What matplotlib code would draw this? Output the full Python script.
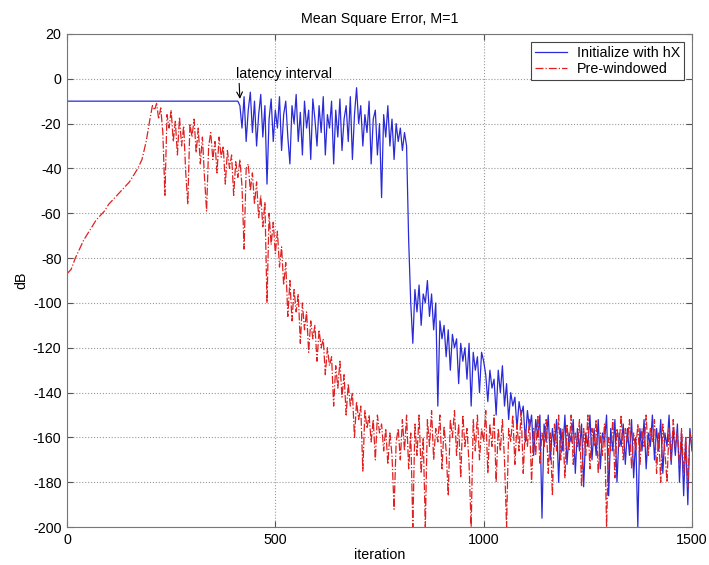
import numpy as np
import matplotlib
matplotlib.use('Agg')
import matplotlib.pyplot as plt

plt.rcParams['font.family'] = ['Liberation Sans', 'DejaVu Sans']
plt.rcParams['axes.unicode_minus'] = False

# pre-windowed, smooth start (every 10 iterations)
red_ramp_x = [0, 10, 20, 30, 40, 50, 60, 70, 80, 90, 100, 110, 120, 130, 140, 150, 160, 170, 180, 190, 200]
red_ramp_y = [-87, -85, -80, -76, -72, -69, -66, -63, -61, -59, -56, -54, -52, -50, -48, -46, -43, -40, -36, -28, -17]

# pre-windowed, noisy part, every 5 iterations from 205 to 1500
red_noisy = [
    -12, -14, -11, -18, -13, -24, -52, -16, -22, -14, -28, -19, -34, -17, -30, -21, -42, -56, -20, -26,
    -18, -33, -22, -38, -26, -44, -59, -30, -24, -36, -28, -42, -26, -35, -30, -47, -32, -40, -34, -52,
    -37, -44, -36, -48, -76, -40,
    -38, -50, -42, -56, -46, -62, -52, -66, -55, -100, -60, -74, -64, -78, -68, -84, -75, -92, -82, -106,
    -90, -108, -94, -104, -96, -118, -100, -112, -104, -122, -108, -116, -110, -126, -112, -120, -116, -132, -120, -128,
    -124, -146, -128, -138, -126, -142, -132, -150, -136, -146, -140, -160, -144, -152, -146, -175, -148, -156, -150, -162,
    -152, -170, -150, -158, -154, -166, -156, -172, -158, -168, -192, -162, -156, -170,
    -152, -166, -150, -174, -158, -200, -154, -168, -150, -176, -160, -200, -152, -164, -148, -170, -156, -162, -150, -174,
    -155, -166, -186, -152, -160, -148, -168, -154, -178, -150, -164, -156, -172, -200, -152, -166, -150, -170, -156, -162,
    -148, -176, -154, -164, -150, -180, -156, -166, -152, -170, -200, -156, -162, -150, -172, -154, -166, -148, -176, -156,
    -164, -152, -180, -156, -168, -150, -172, -158, -164, -152, -176, -158, -186, -154, -166, -150, -170, -156, -178, -154,
    -166, -150, -172, -158, -164, -152, -182, -156, -168, -150, -174, -156, -164, -152, -176, -158, -168, -154, -200, -160,
    -166, -152, -178, -156, -164, -150, -170, -156, -162, -152, -174, -158, -166, -154, -172, -156, -164, -150, -168, -156,
    -162, -152, -176, -158, -180, -154, -166, -180, -156, -170, -152, -164, -158, -172, -156, -176, -160, -182, -158, -164,
]

# initialize with hX: flat during the latency interval
blue_flat_x = [0, 410]
blue_flat_y = [-10, -10]

# initialize with hX, every 5 iterations from 415 to 1500
blue_noisy = [
    -12, -22, -8, -28, -14, -6, -24, -10, -30, -16, -7, -26, -12, -47, -18, -9, -28, -14, -22, -8,
    -32, -16, -10, -26, -38, -12, -20, -7, -28, -15, -34, -10, -22, -14, -36, -9, -18, -30, -12, -24,
    -8, -34, -16, -22, -10, -38, -14, -26, -9, -32, -18, -12, -28, -8, -36, -16, -4, -20, -12, -30,
    -16, -24, -10, -38, -18, -14, -34, -20, -53, -16, -26, -12, -30, -18, -36, -20, -28, -22, -32, -24,
    -30,
    -72, -100, -118, -94, -104, -92, -110, -96, -100, -90, -106, -96, -112, -100, -146, -108, -116, -110, -124, -112,
    -130, -114, -120, -116, -136, -118, -126, -120, -134, -118, -146, -122, -130, -124, -140, -122, -126, -132, -144, -130,
    -138, -134, -150, -130, -140, -128, -146, -136, -152, -140, -146, -142, -156, -144, -150, -146, -162, -148, -156, -150,
    -168, -152, -160, -150, -196, -154, -162, -150, -170, -156, -164, -152, -180, -156, -166, -150, -172, -158, -162, -152,
    -176, -156, -166, -154, -182, -158, -164, -150, -170, -156, -168, -152, -174, -158, -162, -150, -186, -156, -166, -152,
    -180, -158, -164, -154, -172, -156, -168, -152, -178, -160, -200, -156, -166, -152, -174, -158, -164, -150, -170, -156,
    -166, -152, -176, -158, -164, -150, -172, -156, -168, -154, -180, -158, -186, -160, -190, -156, -166,
]

red_x = red_ramp_x + list(range(205, 1501, 5))
red_y = red_ramp_y + red_noisy
blue_x = blue_flat_x + list(range(415, 1501, 5))
blue_y = blue_flat_y + blue_noisy

fs = 10.3

fig = plt.figure(figsize=(7.09, 5.65), dpi=100)
ax = fig.add_axes([0.0945, 0.067, 0.8815, 0.873])

ax.plot(blue_x, blue_y, color='#2a2ad8', linewidth=0.9, label='Initialize with hX')
ax.plot(red_x, red_y, color='#e02020', linewidth=0.9, linestyle='-.', label='Pre-windowed')

ax.set_xlim(0, 1500)
ax.set_ylim(-200, 20)
ax.set_xticks([0, 500, 1000, 1500])
ax.set_yticks(np.arange(-200, 21, 20))
ax.grid(True, linestyle=':', color='#999999', linewidth=0.8)
ax.tick_params(direction='in', top=True, right=True, labelsize=fs, length=4, color='#555555', pad=4)
for s in ax.spines.values():
    s.set_color('#777777')

ax.set_title('Mean Square Error, M=1', fontsize=fs, pad=8)
ax.set_xlabel('iteration', fontsize=fs, labelpad=1)
ax.set_ylabel('dB', fontsize=fs, labelpad=3)

ax.annotate('latency interval', xy=(415, -9), xytext=(406, 0.5), fontsize=fs,
            arrowprops=dict(arrowstyle='->', color='black', lw=0.8, shrinkA=0, shrinkB=0,
                            relpos=(0.03, 0.0)))

leg = ax.legend(loc='upper right', fontsize=fs, fancybox=False, framealpha=1,
                edgecolor='#444444', borderaxespad=0.55, handlelength=2.2,
                labelspacing=0.15, borderpad=0.3, handletextpad=0.7)
leg.get_frame().set_linewidth(0.8)

fig.savefig('out.png', dpi=100)
